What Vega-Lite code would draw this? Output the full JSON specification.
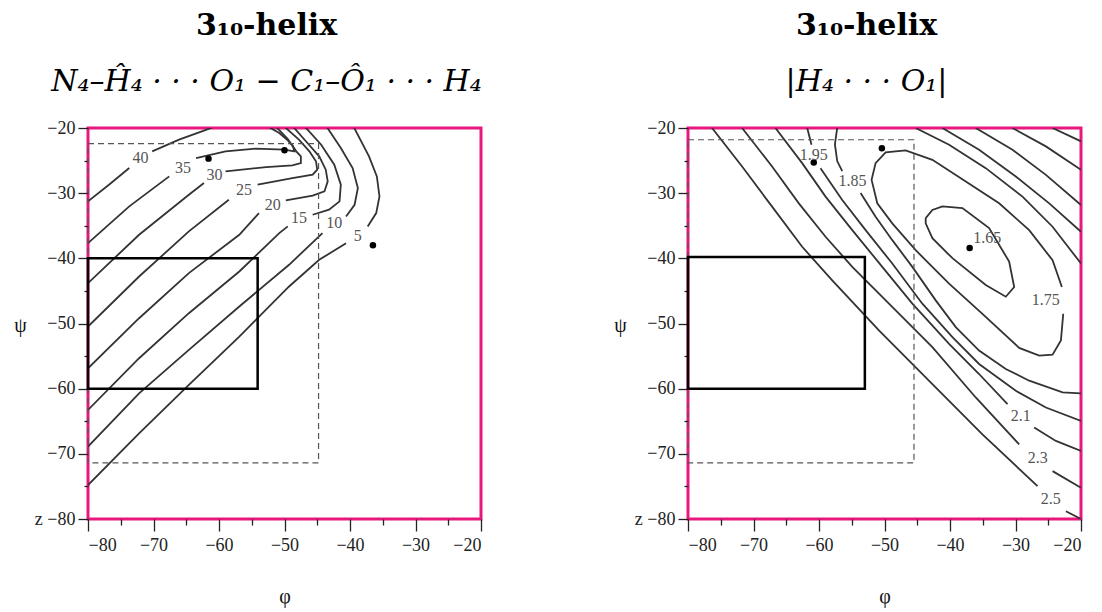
{
  "$schema": "https://vega.github.io/schema/vega-lite/v6.json",
  "autosize": {"type": "pad"},
  "padding": {"left": 12, "top": 9, "right": 0, "bottom": 0},
  "background": "white",
  "spacing": 207,
  "bounds": "flush",
  "config": {
    "view": {"stroke": "#e8187f", "strokeWidth": 3},
    "font": "Liberation Serif",
    "title": {
      "font": "DejaVu Serif", "fontSize": 30, "fontWeight": "bold", "color": "#000",
      "anchor": "middle", "frame": "group", "dx": -18, "offset": 22,
      "subtitleFont": "DejaVu Serif", "subtitleFontSize": 30, "subtitleFontStyle": "italic",
      "subtitleColor": "#000", "subtitlePadding": 26
    },
    "axis": {
      "values": [-80, -75, -70, -65, -60, -55, -50, -45, -40, -35, -30, -25, -20],
      "domain": false, "grid": false,
      "labelFont": "Liberation Serif", "labelFontSize": 18, "labelColor": "#222",
      "tickColor": "#222", "tickWidth": 1.3,
      "titleFont": "Liberation Serif", "titleFontSize": 20, "titleFontWeight": "normal", "titleColor": "#111"
    }
  },
  "datasets": {
    "leftContours": [
      {"seg": "40a", "phi": -80, "psi": -31.26}, {"seg": "40a", "phi": -76.8, "psi": -28.7}, {"seg": "40a", "phi": -73.7, "psi": -26.14},
      {"seg": "40b", "phi": -70.2, "psi": -23.58}, {"seg": "40b", "phi": -66.1, "psi": -21.79}, {"seg": "40b", "phi": -62.2, "psi": -20.36}, {"seg": "40b", "phi": -61.0, "psi": -19.9},
      {"seg": "35a", "phi": -80, "psi": -37.67}, {"seg": "35a", "phi": -73.7, "psi": -32.03}, {"seg": "35a", "phi": -67.6, "psi": -27.42},
      {"seg": "35b", "phi": -63.5, "psi": -24.61}, {"seg": "35b", "phi": -59.0, "psi": -23.58}, {"seg": "35b", "phi": -54.4, "psi": -23.17}, {"seg": "35b", "phi": -50.0, "psi": -23.33}, {"seg": "35b", "phi": -48.5, "psi": -23.58}, {"seg": "35b", "phi": -48.7, "psi": -22.8}, {"seg": "35b", "phi": -49.5, "psi": -21.89}, {"seg": "35b", "phi": -50.8, "psi": -20.77}, {"seg": "35b", "phi": -52.3, "psi": -19.9},
      {"seg": "30a", "phi": -80, "psi": -43.81}, {"seg": "30a", "phi": -72.2, "psi": -36.38}, {"seg": "30a", "phi": -64.6, "psi": -30.24}, {"seg": "30a", "phi": -62.3, "psi": -28.45},
      {"seg": "30b", "phi": -59.0, "psi": -26.66}, {"seg": "30b", "phi": -52.8, "psi": -25.99}, {"seg": "30b", "phi": -48.8, "psi": -25.73}, {"seg": "30b", "phi": -47.5, "psi": -25.38}, {"seg": "30b", "phi": -47.5, "psi": -24.35}, {"seg": "30b", "phi": -48.2, "psi": -23.58}, {"seg": "30b", "phi": -49.5, "psi": -21.69}, {"seg": "30b", "phi": -51.2, "psi": -19.9},
      {"seg": "25a", "phi": -80, "psi": -50.47}, {"seg": "25a", "phi": -72.2, "psi": -42.79}, {"seg": "25a", "phi": -64.6, "psi": -35.87}, {"seg": "25a", "phi": -58.5, "psi": -31.01},
      {"seg": "25b", "phi": -54.1, "psi": -28.7}, {"seg": "25b", "phi": -48.8, "psi": -27.68}, {"seg": "25b", "phi": -45.7, "psi": -27.17}, {"seg": "25b", "phi": -45.0, "psi": -26.4}, {"seg": "25b", "phi": -45.2, "psi": -25.1}, {"seg": "25b", "phi": -46.2, "psi": -23.58}, {"seg": "25b", "phi": -47.8, "psi": -21.79}, {"seg": "25b", "phi": -49.9, "psi": -19.9},
      {"seg": "20a", "phi": -80, "psi": -56.87}, {"seg": "20a", "phi": -72.2, "psi": -49.19}, {"seg": "20a", "phi": -64.6, "psi": -42.27}, {"seg": "20a", "phi": -56.9, "psi": -36.38}, {"seg": "20a", "phi": -53.9, "psi": -33.06},
      {"seg": "20b", "phi": -49.8, "psi": -31.11}, {"seg": "20b", "phi": -45.7, "psi": -30.39}, {"seg": "20b", "phi": -43.9, "psi": -29.73}, {"seg": "20b", "phi": -43.4, "psi": -28.19}, {"seg": "20b", "phi": -43.7, "psi": -26.4}, {"seg": "20b", "phi": -44.7, "psi": -24.35}, {"seg": "20b", "phi": -46.5, "psi": -22.3}, {"seg": "20b", "phi": -48.6, "psi": -19.9},
      {"seg": "15a", "phi": -80, "psi": -63.27}, {"seg": "15a", "phi": -72.2, "psi": -55.33}, {"seg": "15a", "phi": -64.6, "psi": -48.42}, {"seg": "15a", "phi": -56.9, "psi": -42.02}, {"seg": "15a", "phi": -50.8, "psi": -36.13}, {"seg": "15a", "phi": -49.5, "psi": -35.1},
      {"seg": "15b", "phi": -45.7, "psi": -33.31}, {"seg": "15b", "phi": -43.2, "psi": -32.54}, {"seg": "15b", "phi": -41.6, "psi": -31.26}, {"seg": "15b", "phi": -41.4, "psi": -28.7}, {"seg": "15b", "phi": -42.4, "psi": -25.63}, {"seg": "15b", "phi": -44.4, "psi": -22.56}, {"seg": "15b", "phi": -46.8, "psi": -19.9},
      {"seg": "10a", "phi": -80, "psi": -68.9}, {"seg": "10a", "phi": -72.2, "psi": -60.71}, {"seg": "10a", "phi": -64.6, "psi": -54.05}, {"seg": "10a", "phi": -56.9, "psi": -47.39}, {"seg": "10a", "phi": -49.3, "psi": -40.99}, {"seg": "10a", "phi": -44.2, "psi": -36.13},
      {"seg": "10b", "phi": -40.6, "psi": -33.57}, {"seg": "10b", "phi": -39.3, "psi": -31.78}, {"seg": "10b", "phi": -38.8, "psi": -29.22}, {"seg": "10b", "phi": -39.6, "psi": -26.14}, {"seg": "10b", "phi": -41.4, "psi": -23.07}, {"seg": "10b", "phi": -43.5, "psi": -19.9},
      {"seg": "5a", "phi": -80, "psi": -74.79}, {"seg": "5a", "phi": -72.2, "psi": -66.85}, {"seg": "5a", "phi": -64.6, "psi": -59.43}, {"seg": "5a", "phi": -56.9, "psi": -52.0}, {"seg": "5a", "phi": -49.3, "psi": -44.32}, {"seg": "5a", "phi": -44.7, "psi": -40.23}, {"seg": "5a", "phi": -40.6, "psi": -37.67},
      {"seg": "5b", "phi": -37.3, "psi": -35.1}, {"seg": "5b", "phi": -36.0, "psi": -33.06}, {"seg": "5b", "phi": -35.5, "psi": -30.5}, {"seg": "5b", "phi": -35.9, "psi": -27.42}, {"seg": "5b", "phi": -37.1, "psi": -24.35}, {"seg": "5b", "phi": -39.4, "psi": -19.9}
    ],
    "leftLabels": [
      {"label": "40", "phi": -72.0, "psi": -24.6}, {"label": "35", "phi": -65.5, "psi": -26.1},
      {"label": "30", "phi": -60.7, "psi": -27.2}, {"label": "25", "phi": -56.2, "psi": -29.5},
      {"label": "20", "phi": -51.8, "psi": -31.8}, {"label": "15", "phi": -47.8, "psi": -33.8},
      {"label": "10", "phi": -42.4, "psi": -34.6}, {"label": "5", "phi": -38.8, "psi": -36.6}
    ],
    "leftBoxes": [
      {"box": "core", "phi": -80, "phi2": -54.1, "psi": -60, "psi2": -40},
      {"box": "range", "phi": -80, "phi2": -44.8, "psi": -71.4, "psi2": -22.4}
    ],
    "leftDots": [
      {"phi": -61.6, "psi": -24.7}, {"phi": -50.0, "psi": -23.4}, {"phi": -36.5, "psi": -38.0}
    ],
    "rightContours": [
      {"seg": "2.5a", "phi": -76.33, "psi": -20}, {"seg": "2.5a", "phi": -71.74, "psi": -25.91}, {"seg": "2.5a", "phi": -67.16, "psi": -32.07}, {"seg": "2.5a", "phi": -62.57, "psi": -38.23}, {"seg": "2.5a", "phi": -57.98, "psi": -43.37}, {"seg": "2.5a", "phi": -50.85, "psi": -51.07}, {"seg": "2.5a", "phi": -42.69, "psi": -59.29}, {"seg": "2.5a", "phi": -35.05, "psi": -67.0}, {"seg": "2.5a", "phi": -26.64, "psi": -74.96},
      {"seg": "2.5b", "phi": -22.3, "psi": -78.81}, {"seg": "2.5b", "phi": -20, "psi": -80},
      {"seg": "2.3a", "phi": -71.74, "psi": -20}, {"seg": "2.3a", "phi": -67.16, "psi": -25.91}, {"seg": "2.3a", "phi": -63.08, "psi": -31.56}, {"seg": "2.3a", "phi": -59.0, "psi": -36.69}, {"seg": "2.3a", "phi": -54.92, "psi": -41.31}, {"seg": "2.3a", "phi": -49.32, "psi": -46.96}, {"seg": "2.3a", "phi": -42.69, "psi": -53.64}, {"seg": "2.3a", "phi": -36.07, "psi": -61.35}, {"seg": "2.3a", "phi": -29.44, "psi": -68.54},
      {"seg": "2.3b", "phi": -24.34, "psi": -72.65}, {"seg": "2.3b", "phi": -20, "psi": -75.21},
      {"seg": "2.1a", "phi": -66.65, "psi": -20}, {"seg": "2.1a", "phi": -62.57, "psi": -25.39}, {"seg": "2.1a", "phi": -59.0, "psi": -30.53}, {"seg": "2.1a", "phi": -54.92, "psi": -35.67}, {"seg": "2.1a", "phi": -50.34, "psi": -41.31}, {"seg": "2.1a", "phi": -45.75, "psi": -46.96}, {"seg": "2.1a", "phi": -40.14, "psi": -53.13}, {"seg": "2.1a", "phi": -35.56, "psi": -57.75}, {"seg": "2.1a", "phi": -31.22, "psi": -62.37},
      {"seg": "2.1b", "phi": -27.15, "psi": -65.97}, {"seg": "2.1b", "phi": -23.83, "psi": -68.02}, {"seg": "2.1b", "phi": -20, "psi": -69.56},
      {"seg": "1.95a", "phi": -61.8, "psi": -20}, {"seg": "1.95a", "phi": -61.14, "psi": -22.57},
      {"seg": "1.95b", "phi": -59.77, "psi": -26.16}, {"seg": "1.95b", "phi": -56.45, "psi": -31.04}, {"seg": "1.95b", "phi": -52.88, "psi": -35.67}, {"seg": "1.95b", "phi": -48.81, "psi": -40.8}, {"seg": "1.95b", "phi": -44.22, "psi": -46.96}, {"seg": "1.95b", "phi": -39.63, "psi": -52.1}, {"seg": "1.95b", "phi": -35.56, "psi": -56.21}, {"seg": "1.95b", "phi": -29.95, "psi": -60.32}, {"seg": "1.95b", "phi": -25.36, "psi": -62.89}, {"seg": "1.95b", "phi": -20, "psi": -64.94},
      {"seg": "1.85a", "phi": -57.22, "psi": -20}, {"seg": "1.85a", "phi": -57.57, "psi": -22.52}, {"seg": "1.85a", "phi": -57.22, "psi": -25.08}, {"seg": "1.85a", "phi": -56.45, "psi": -26.63},
      {"seg": "1.85b", "phi": -53.65, "psi": -29.96}, {"seg": "1.85b", "phi": -51.36, "psi": -33.61}, {"seg": "1.85b", "phi": -48.81, "psi": -37.21}, {"seg": "1.85b", "phi": -45.75, "psi": -41.31}, {"seg": "1.85b", "phi": -42.18, "psi": -46.45}, {"seg": "1.85b", "phi": -39.12, "psi": -50.56}, {"seg": "1.85b", "phi": -35.56, "psi": -54.16}, {"seg": "1.85b", "phi": -31.48, "psi": -56.98}, {"seg": "1.85b", "phi": -27.91, "psi": -58.78}, {"seg": "1.85b", "phi": -22.81, "psi": -60.57}, {"seg": "1.85b", "phi": -20, "psi": -60.73},
      {"seg": "1.85u", "phi": -45.24, "psi": -20}, {"seg": "1.85u", "phi": -40.14, "psi": -22.57}, {"seg": "1.85u", "phi": -34.54, "psi": -26.16}, {"seg": "1.85u", "phi": -28.93, "psi": -30.53}, {"seg": "1.85u", "phi": -24.34, "psi": -35.15}, {"seg": "1.85u", "phi": -20, "psi": -40.8},
      {"seg": "1.95u", "phi": -41.16, "psi": -20}, {"seg": "1.95u", "phi": -35.56, "psi": -23.34}, {"seg": "1.95u", "phi": -29.95, "psi": -27.45}, {"seg": "1.95u", "phi": -24.85, "psi": -31.56}, {"seg": "1.95u", "phi": -20, "psi": -35.92},
      {"seg": "2.1u", "phi": -36.07, "psi": -20}, {"seg": "2.1u", "phi": -30.46, "psi": -23.34}, {"seg": "2.1u", "phi": -25.36, "psi": -27.19}, {"seg": "2.1u", "phi": -20, "psi": -31.81},
      {"seg": "2.3u", "phi": -30.46, "psi": -20}, {"seg": "2.3u", "phi": -25.36, "psi": -22.82}, {"seg": "2.3u", "phi": -20, "psi": -26.42},
      {"seg": "2.5u", "phi": -24.34, "psi": -20}, {"seg": "2.5u", "phi": -20, "psi": -22.05},
      {"seg": "1.75", "phi": -22.71, "psi": -48.51}, {"seg": "1.75", "phi": -23.07, "psi": -52.61}, {"seg": "1.75", "phi": -24.34, "psi": -54.77}, {"seg": "1.75", "phi": -26.38, "psi": -54.93}, {"seg": "1.75", "phi": -29.44, "psi": -53.74}, {"seg": "1.75", "phi": -35.05, "psi": -48.51}, {"seg": "1.75", "phi": -40.14, "psi": -43.88}, {"seg": "1.75", "phi": -45.24, "psi": -38.75}, {"seg": "1.75", "phi": -48.81, "psi": -34.64}, {"seg": "1.75", "phi": -51.1, "psi": -31.56}, {"seg": "1.75", "phi": -51.97, "psi": -27.96}, {"seg": "1.75", "phi": -51.36, "psi": -25.39}, {"seg": "1.75", "phi": -49.83, "psi": -23.75}, {"seg": "1.75", "phi": -46.77, "psi": -23.44}, {"seg": "1.75", "phi": -42.69, "psi": -24.88}, {"seg": "1.75", "phi": -37.59, "psi": -28.22}, {"seg": "1.75", "phi": -32.5, "psi": -31.56}, {"seg": "1.75", "phi": -27.91, "psi": -35.67}, {"seg": "1.75", "phi": -24.34, "psi": -40.29}, {"seg": "1.75", "phi": -22.92, "psi": -44.4},
      {"seg": "1.65", "phi": -43.71, "psi": -33.82}, {"seg": "1.65", "phi": -42.69, "psi": -32.58}, {"seg": "1.65", "phi": -41.16, "psi": -32.02}, {"seg": "1.65", "phi": -38.1, "psi": -32.28}, {"seg": "1.65", "phi": -34.03, "psi": -35.36}, {"seg": "1.65", "phi": -30.97, "psi": -40.49}, {"seg": "1.65", "phi": -30.2, "psi": -44.4}, {"seg": "1.65", "phi": -31.48, "psi": -45.89}, {"seg": "1.65", "phi": -34.54, "psi": -44.09}, {"seg": "1.65", "phi": -39.63, "psi": -39.98}, {"seg": "1.65", "phi": -42.69, "psi": -36.9}, {"seg": "1.65", "phi": -43.71, "psi": -34.64}, {"seg": "1.65", "phi": -43.71, "psi": -33.82}
    ],
    "rightLabels": [
      {"label": "1.95", "phi": -60.8, "psi": -24.2}, {"label": "1.85", "phi": -54.9, "psi": -28.2},
      {"label": "1.65", "phi": -34.3, "psi": -36.9}, {"label": "1.75", "phi": -25.4, "psi": -46.4},
      {"label": "2.1", "phi": -29.2, "psi": -64.2}, {"label": "2.3", "phi": -26.6, "psi": -70.6},
      {"label": "2.5", "phi": -24.6, "psi": -77.0}
    ],
    "rightBoxes": [
      {"box": "core", "phi": -80, "phi2": -53.0, "psi": -60, "psi2": -39.8},
      {"box": "range", "phi": -80, "phi2": -45.5, "psi": -71.4, "psi2": -21.8}
    ],
    "rightDots": [
      {"phi": -60.8, "psi": -25.3}, {"phi": -50.4, "psi": -23.1}, {"phi": -37.0, "psi": -38.4}
    ]
  },
  "hconcat": [
    {
      "width": 393, "height": 391,
      "title": {"text": "3₁₀-helix", "subtitle": "N₄–Ĥ₄ · · · O₁ − C₁–Ô₁ · · · H₄"},
      "encoding": {
        "x": {
          "field": "phi", "type": "quantitative",
          "scale": {"domain": [-80, -20], "nice": false, "zero": false},
          "axis": {
            "title": "φ", "titleY": 77, "titleBaseline": "middle", "labelPadding": 5,
            "labelExpr": "datum.value % 10 === 0 ? '−' + abs(datum.value) : ''",
            "tickSize": {"condition": {"test": "datum.value % 10 === 0", "value": 12}, "value": 6}
          }
        },
        "y": {
          "field": "psi", "type": "quantitative",
          "scale": {"domain": [-80, -20], "nice": false, "zero": false},
          "axis": {
            "title": "ψ", "titleAngle": 0, "titleX": -68, "titleY": 197, "titleAlign": "center", "titleBaseline": "middle",
            "labelPadding": 3,
            "labelExpr": "datum.value === -80 ? 'z −80' : (datum.value % 10 === 0 ? '−' + abs(datum.value) : '')",
            "tickSize": {"condition": {"test": "datum.value % 10 === 0", "value": 10}, "value": 4}
          }
        }
      },
      "layer": [
        {
          "data": {"name": "leftContours"},
          "mark": {"type": "line", "color": "#333", "strokeWidth": 1.8, "clip": true},
          "encoding": {"detail": {"field": "seg"}, "order": {"value": null}}
        },
        {
          "data": {"name": "leftBoxes"},
          "transform": [{"filter": "datum.box === 'range'"}],
          "mark": {"type": "rect", "fill": "transparent", "stroke": "#555", "strokeWidth": 1.2, "strokeDash": [6, 4]},
          "encoding": {"x2": {"field": "phi2"}, "y2": {"field": "psi2"}}
        },
        {
          "data": {"name": "leftBoxes"},
          "transform": [{"filter": "datum.box === 'core'"}],
          "mark": {"type": "rect", "fill": "transparent", "stroke": "#000", "strokeWidth": 2.5},
          "encoding": {"x2": {"field": "phi2"}, "y2": {"field": "psi2"}}
        },
        {
          "data": {"name": "leftDots"},
          "mark": {"type": "point", "filled": true, "color": "#000", "size": 42, "opacity": 1}
        },
        {
          "data": {"name": "leftLabels"},
          "mark": {"type": "text", "font": "Liberation Serif", "fontSize": 16, "color": "#555", "align": "center", "baseline": "middle"},
          "encoding": {"text": {"field": "label"}}
        }
      ]
    },
    {
      "width": 393, "height": 391,
      "title": {"text": "3₁₀-helix", "subtitle": "|H₄ · · · O₁|"},
      "encoding": {
        "x": {
          "field": "phi", "type": "quantitative",
          "scale": {"domain": [-80, -20], "nice": false, "zero": false},
          "axis": {
            "title": "φ", "titleY": 77, "titleBaseline": "middle", "labelPadding": 5,
            "labelExpr": "datum.value % 10 === 0 ? '−' + abs(datum.value) : ''",
            "tickSize": {"condition": {"test": "datum.value % 10 === 0", "value": 12}, "value": 6}
          }
        },
        "y": {
          "field": "psi", "type": "quantitative",
          "scale": {"domain": [-80, -20], "nice": false, "zero": false},
          "axis": {
            "title": "ψ", "titleAngle": 0, "titleX": -68, "titleY": 197, "titleAlign": "center", "titleBaseline": "middle",
            "labelPadding": 3,
            "labelExpr": "datum.value === -80 ? 'z −80' : (datum.value % 10 === 0 ? '−' + abs(datum.value) : '')",
            "tickSize": {"condition": {"test": "datum.value % 10 === 0", "value": 10}, "value": 4}
          }
        }
      },
      "layer": [
        {
          "data": {"name": "rightContours"},
          "mark": {"type": "line", "color": "#333", "strokeWidth": 1.8, "clip": true},
          "encoding": {"detail": {"field": "seg"}, "order": {"value": null}}
        },
        {
          "data": {"name": "rightBoxes"},
          "transform": [{"filter": "datum.box === 'range'"}],
          "mark": {"type": "rect", "fill": "transparent", "stroke": "#555", "strokeWidth": 1.2, "strokeDash": [6, 4]},
          "encoding": {"x2": {"field": "phi2"}, "y2": {"field": "psi2"}}
        },
        {
          "data": {"name": "rightBoxes"},
          "transform": [{"filter": "datum.box === 'core'"}],
          "mark": {"type": "rect", "fill": "transparent", "stroke": "#000", "strokeWidth": 2.5},
          "encoding": {"x2": {"field": "phi2"}, "y2": {"field": "psi2"}}
        },
        {
          "data": {"name": "rightDots"},
          "mark": {"type": "point", "filled": true, "color": "#000", "size": 42, "opacity": 1}
        },
        {
          "data": {"name": "rightLabels"},
          "mark": {"type": "text", "font": "Liberation Serif", "fontSize": 16, "color": "#555", "align": "center", "baseline": "middle"},
          "encoding": {"text": {"field": "label"}}
        }
      ]
    }
  ]
}
